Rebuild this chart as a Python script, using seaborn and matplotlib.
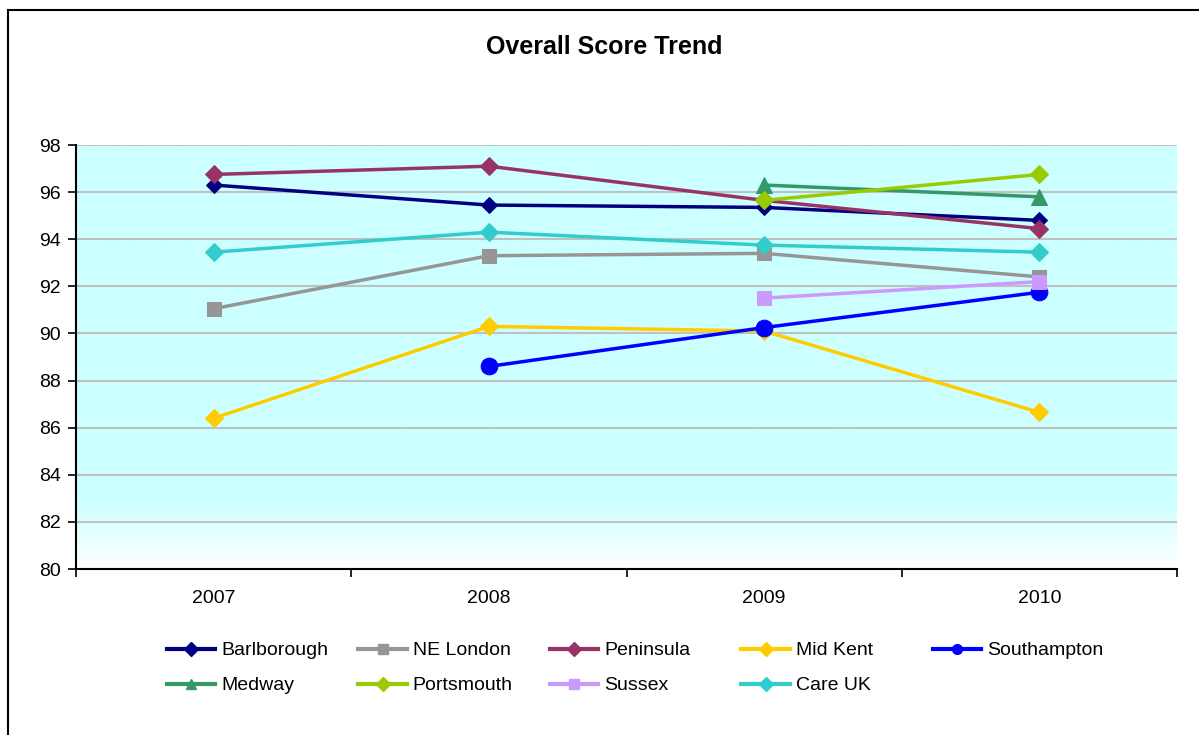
import matplotlib
matplotlib.use("Agg")
import matplotlib.pyplot as plt
from matplotlib.lines import Line2D
import numpy as np
import pandas as pd
import seaborn as sns

years = ["2007", "2008", "2009", "2010"]

barlborough = [96.3, 95.45, 95.35, 94.8]
ne_london = [91.05, 93.3, 93.4, 92.4]
peninsula = [96.75, 97.1, 95.65, 94.45]
mid_kent = [86.4, 90.3, 90.1, 86.65]
southampton = [np.nan, 88.6, 90.25, 91.75]
medway = [np.nan, np.nan, 96.3, 95.8]
portsmouth = [np.nan, np.nan, 95.65, 96.75]
sussex = [np.nan, np.nan, 91.5, 92.2]
care_uk = [93.45, 94.3, 93.75, 93.45]

series_names = ["Barlborough", "NE London", "Peninsula", "Mid Kent", "Southampton",
                "Medway", "Portsmouth", "Sussex", "Care UK"]
series_values = [barlborough, ne_london, peninsula, mid_kent, southampton,
                 medway, portsmouth, sussex, care_uk]
colors = ["#000080", "#969696", "#993366", "#FFCC00", "#0000FF",
          "#339966", "#99CC00", "#CC99FF", "#33CCCC"]
markers = ["D", "s", "D", "D", "o", "^", "D", "s", "D"]
msizes = [8, 10, 9, 9, 12, 11, 9, 10, 9]

plt.rcParams["font.family"] = ["Liberation Sans", "DejaVu Sans"]

fig = plt.figure(figsize=(11.99, 7.35), dpi=100)
ax = fig.add_axes([76 / 1199, 1 - 569 / 735, (1177 - 76) / 1199, (569 - 145) / 735])

# figure border (left and top visible)
fig.add_artist(plt.Line2D([8 / 1199, 8 / 1199], [0, 1 - 10 / 735], color="black", lw=1.5, transform=fig.transFigure))
fig.add_artist(plt.Line2D([8 / 1199, 1.0], [1 - 10 / 735, 1 - 10 / 735], color="black", lw=1.5, transform=fig.transFigure))

# background: cyan fading to white near the bottom
ys = np.linspace(0, 1, 200)
grad = np.clip(ys / 0.16, 0, 1)[:, None]
cyan = np.array([0xCC, 0xFF, 0xFF]) / 255
img = (1 - grad[:, :, None]) * 1.0 + cyan[None, None, :] * grad[:, :, None]
ax.imshow(img, extent=[0, 1, 0, 1], origin="lower", aspect="auto",
          transform=ax.transAxes, zorder=0)

for v in range(82, 99, 2):
    ax.axhline(v, color="#C0C0C0", lw=1.5, zorder=1)

rows = []
for name, vals in zip(series_names, series_values):
    for i, v in enumerate(vals):
        rows.append({"series": name, "pos": i, "score": v})
df = pd.DataFrame(rows)

handles = {}
for name, c, m, ms in zip(series_names, colors, markers, msizes):
    sub = df[(df["series"] == name) & df["score"].notna()]
    sns.lineplot(data=sub, x="pos", y="score", ax=ax, color=c, marker=m,
                 markersize=ms, markeredgecolor=c, linewidth=2.5, zorder=3)
    handles[name] = Line2D([], [], color=c, marker=m, markersize=7, linewidth=3,
                           markeredgecolor=c)

ax.set_xlim(-0.5, 3.5)
ax.set_ylim(80, 98)
ax.set_yticks(range(80, 99, 2))
ax.set_xticks(range(4))
ax.set_xticklabels(years)
ax.set_xticks(np.arange(-0.5, 3.6, 1), minor=True)
ax.tick_params(axis="x", which="major", length=0, pad=15, labelsize=14)
ax.tick_params(axis="x", which="minor", length=6, width=1.2, direction="out")
ax.tick_params(axis="y", length=6, width=1.2, labelsize=14, pad=5)
ax.set_xlabel("")
ax.set_ylabel("")
for s in ["top", "right"]:
    ax.spines[s].set_visible(False)
for s in ["left", "bottom"]:
    ax.spines[s].set_linewidth(1.5)
    ax.spines[s].set_color("black")

fig.text(604 / 1199, 1 - 47 / 735, "Overall Score Trend", ha="center", va="center",
         fontsize=18, fontweight="bold")

# legend laid out in fixed-width columns, rows filled left to right
legend_cols = [["Barlborough", "Medway"], ["NE London", "Portsmouth"],
               ["Peninsula", "Sussex"], ["Mid Kent", "Care UK"], ["Southampton"]]
for i, col in enumerate(legend_cols):
    leg = fig.legend([handles[n] for n in col], col, loc="upper left",
                     bbox_to_anchor=((157 + 191.5 * i) / 1199, 1 - 632 / 735),
                     frameon=False, fontsize=14, handlelength=2.5,
                     handletextpad=0.3, labelspacing=0.9, borderpad=0)

fig.savefig("out.png", dpi=100)
